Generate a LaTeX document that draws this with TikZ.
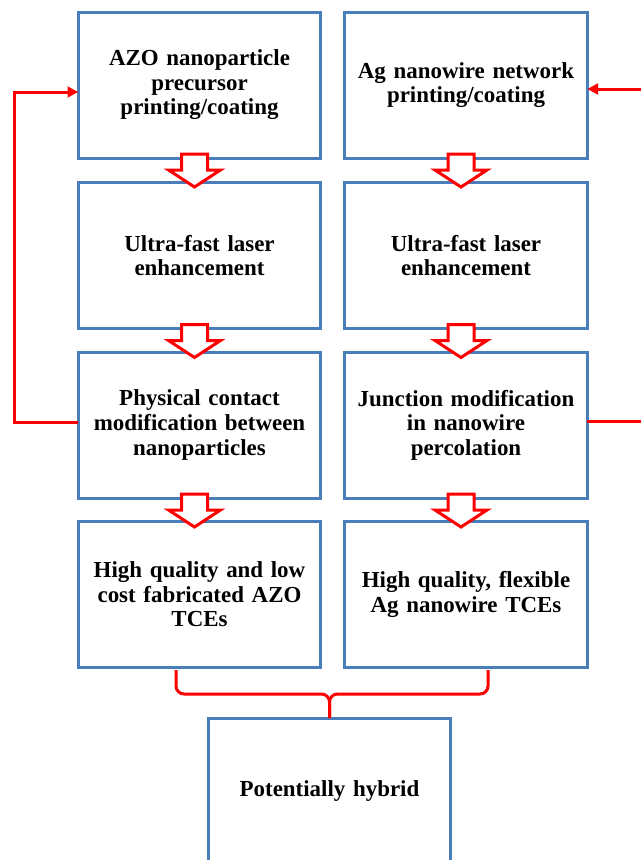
\documentclass[tikz,border=0pt]{standalone}
\usepackage{fontspec}
\setmainfont{Liberation Serif}
\usetikzlibrary{calc,arrows.meta}

\definecolor{boxblue}{RGB}{74,126,187}

\tikzset{
  procbox/.style={draw=boxblue, line width=2.25pt, fill=white, outer sep=0pt,
    minimum width=182pt, minimum height=109.5pt, text width=178pt, inner sep=0pt,
    align=center, font=\fontsize{17.2}{18.4}\selectfont\bfseries},
  redline/.style={draw=red, line width=2.25pt},
  blockarrow/.style={draw=red, line width=2.25pt, fill=white, line join=miter},
  redtip/.style={-{Triangle[length=8pt,width=8pt]}}
}

\begin{document}
\begin{tikzpicture}[x=0.75pt,y=-0.75pt]
   \useasboundingbox (0,0) rectangle (641,860);

   % left column
   \node[procbox] (a1) at (199.5,85)  {AZO nanoparticle\\precursor\\printing/coating};
   \node[procbox] (a2) at (199.5,255.5) {Ultra-fast laser\\enhancement};
   \node[procbox] (a3) at (199.5,425) {Physical contact\\modification between\\nanoparticles};
   \node[procbox] (a4) at (199.5,594.5) {High quality and low\\cost fabricated AZO\\TCEs};

   % right column
   \node[procbox] (b1) at (466,85)  {Ag nanowire network\\printing/coating};
   \node[procbox] (b2) at (466,255.5) {Ultra-fast laser\\enhancement};
   \node[procbox] (b3) at (466,425) {Junction modification\\in nanowire\\percolation};
   \node[procbox] (b4) at (466,594.5) {High quality, flexible\\Ag nanowire TCEs};

   \node[procbox] (hyb) at (329.5,791) {Potentially hybrid};

   % block arrows between steps
   \foreach \u in {a1,a2,a3,b1,b2,b3}
   \draw[blockarrow] ($(\u.south)+(-18,-4)$) -- ($(\u.south)+(8,-4)$)
      -- ($(\u.south)+(8,12)$) -- ($(\u.south)+(21,12)$) -- ($(\u.south)+(-5,29)$)
      -- ($(\u.south)+(-31,12)$) -- ($(\u.south)+(-18,12)$) -- cycle;

   % feedback loops
   \draw[redline,redtip] ($(a3.west)+(0,-3)$) -- ++(-64,0) |- ($(a1.west)+(0,7)$);
   \coordinate (rin) at (641,89);
   \coordinate (rout) at (641,421);
   \draw[redline,redtip] (rin) -- (b1.east |- rin);
   \draw[redline] (b3.east |- rout) -- (rout);

   % brace into the hybrid box
   \coordinate (bl) at (176,670);
   \coordinate (br) at (488,670);
   \draw[redline, rounded corners=6pt] (bl) |- ($(hyb.north)+(0,-24)$) -- (hyb.north);
   \draw[redline, rounded corners=6pt] (br) |- ($(hyb.north)+(0,-24)$) -- (hyb.north);

\end{tikzpicture}
\end{document}
